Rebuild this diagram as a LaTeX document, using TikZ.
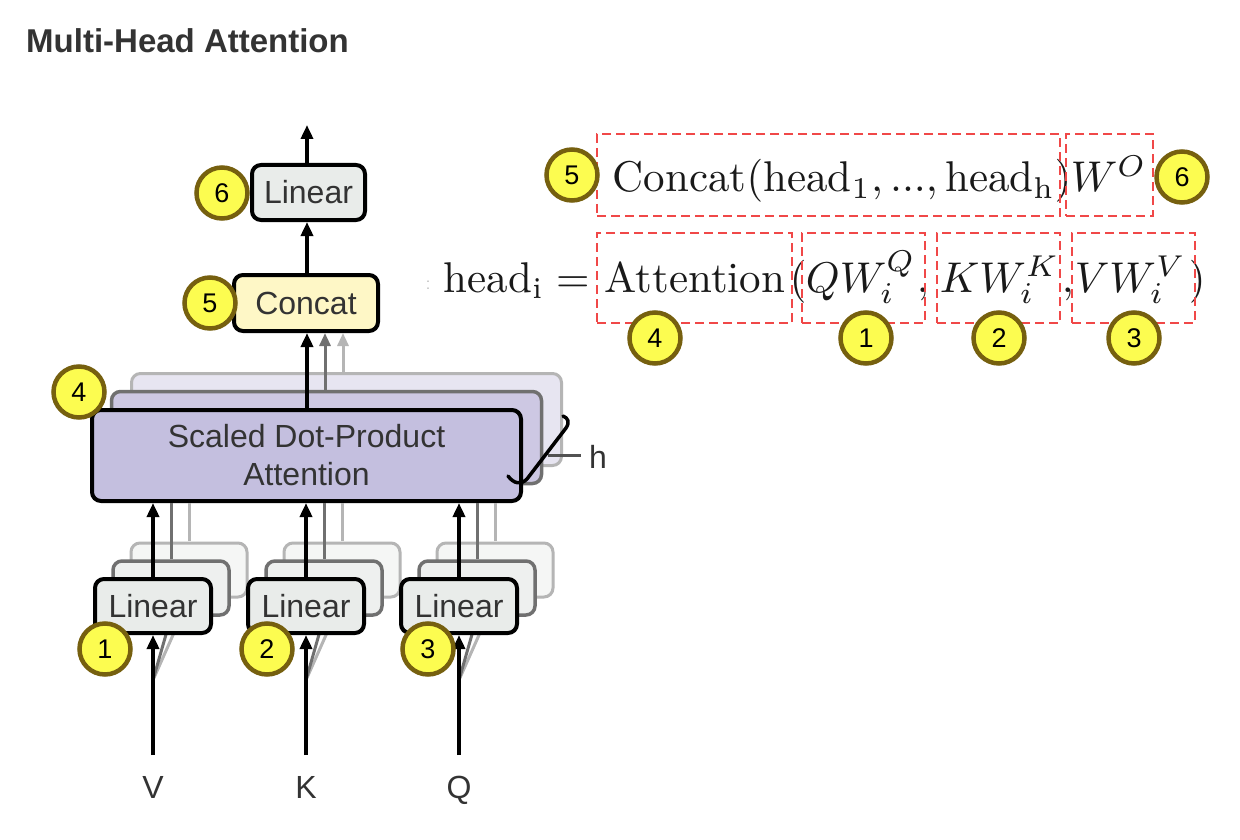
\documentclass[tikz,border=0pt]{standalone}
\usepackage{fontspec}
\newfontfamily\hv{Liberation Sans}
\usetikzlibrary{arrows.meta}
\definecolor{txt}{HTML}{333333}
\definecolor{titlec}{HTML}{333333}
\definecolor{numfill}{HTML}{FCFC50}
\definecolor{numedge}{HTML}{76600F}
\definecolor{lingray}{HTML}{E9ECEA}
\definecolor{lingray2}{HTML}{EEF0EF}
\definecolor{lingray3}{HTML}{F5F6F5}
\definecolor{concatfill}{HTML}{FEF7C6}
\definecolor{attfill}{HTML}{C4BFDF}
\definecolor{attfill2}{HTML}{CDC8E3}
\definecolor{attfill3}{HTML}{E7E5F1}
\definecolor{mid}{HTML}{707070}
\definecolor{light}{HTML}{B5B5B5}
\definecolor{redc}{HTML}{F04848}
\tikzset{
  box/.style={draw=black, line width=4pt, rounded corners=9pt, inner sep=0pt,
    text=txt, font=\hv\fontsize{32}{38}\selectfont, align=center},
  linbox/.style={box, fill=lingray, minimum width=116pt, minimum height=54pt},
  num/.style={circle, draw=numedge, fill=numfill, line width=4.5pt, minimum size=51pt,
    inner sep=0pt, text=black, font=\hv\fontsize{27}{30}\selectfont},
  ar/.style={line width=4pt, -{Triangle[length=14pt,width=12pt]}},
  ln/.style={line width=3pt},
  redbox/.style={draw=redc, dash pattern=on 9pt off 5pt, line width=2.8pt, inner sep=0pt},
  fm/.style={inner sep=0pt, anchor=base west, scale=4.3, text=black!90},
  lbl/.style={inner sep=0pt, anchor=base, text=txt, font=\hv\fontsize{32}{38}\selectfont}
}
\begin{document}
\begin{tikzpicture}[x=1pt,y=-1pt]
\useasboundingbox (0,0) rectangle (1240,840);
\fill[white] (0,0) rectangle (1240,840);

% title
\node[anchor=base west, inner sep=0pt, font=\hv\bfseries\fontsize{33}{38}\selectfont, text=titlec] (title) at (26,53) {Multi-Head Attention};

% ---------- attention stack ----------
\node[box, draw=light, line width=3pt, fill=attfill3, minimum width=430pt, minimum height=92pt] (att3) at (346.5,419.5) {};
\draw[ln, light, -{Triangle[length=13pt,width=11pt]}] (343,372) -- (343,333);
\node[box, draw=mid, line width=3.5pt, fill=attfill2, minimum width=430pt, minimum height=92pt] (att2) at (326.5,437.5) {};
\draw[ln, mid, -{Triangle[length=13pt,width=11pt]}] (325,390) -- (325,333);
\node[box, fill=attfill, minimum width=429pt, minimum height=91pt] (att) at (306.5,455.5) {Scaled Dot-Product\\Attention};

% h bracket
\draw[line width=3.5pt, line cap=round, line join=round]
  (508,476) .. controls (514,484) and (521,485) .. (527,479) -- (566,428) .. controls (570,422) and (568,418) .. (563,416);
\coordinate (hb) at (548,455);
\node[inner sep=0pt, anchor=base west, text=txt, font=\hv\fontsize{32}{38}\selectfont] (h) at (589,468) {h};
\draw[line width=3pt, txt!85] (hb) -- (581,455);

% ---------- concat and output linear ----------
\node[box, fill=concatfill, minimum width=144pt, minimum height=56pt] (concat) at (306,303) {Concat};
\node[box, fill=lingray, minimum width=113pt, minimum height=55pt] (L6) at (308.5,192.5) {Linear};
\coordinate (out) at (307,125);
\draw[ar] (L6.north -| out) -- (out);
\draw[ar] (concat.north -| out) -- (L6.south -| out);
\draw[ar] (att.north -| out) -- (concat.south -| out);

% ---------- bottom linear stacks ----------
\foreach \n/\x/\lab in {1/153/V, 2/306/K, 3/459/Q}{
  \node[box, draw=light, line width=3pt, fill=lingray3, minimum width=116pt, minimum height=54pt] (lin\n c) at (\x+36,570) {};
  \draw[ln, light] (\x,680) -- (\x+36,599);
  \draw[ln, light] (\x+36,541) -- (\x+36,503);
  \node[box, draw=mid, line width=3.5pt, fill=lingray2, minimum width=116pt, minimum height=54pt] (lin\n b) at (\x+18,588) {};
  \draw[ln, mid] (\x,680) -- (\x+18,617);
  \draw[ln, mid] (\x+18,559) -- (\x+18,503);
  \node[linbox] (lin\n) at (\x,606) {Linear};
  \node[lbl] (in\n) at (\x,798) {\lab};
  \coordinate (s\n) at (\x,755);
  \draw[ar] (s\n) -- (lin\n.south);
  \draw[ar] (lin\n.north) -- (lin\n.north |- att.south);
}

% ---------- numbered circles (left) ----------
\node[num] (n1) at (105,649) {1};
\node[num] (n2) at (267,649) {2};
\node[num] (n3) at (428,649) {3};
\node[num] (n4) at (79,392) {4};
\node[num] (n5) at (210,303) {5};
\node[num] (n6) at (222,193) {6};

% ---------- formulas ----------
\node[inner sep=0pt, text=black!30, font=\fontsize{20}{24}\selectfont] (frag) at (428,285) {:};
\node[fm] (fC) at (612,192) {$\mathrm{Concat}(\mathrm{head}_1, ..., \mathrm{head_h})$};
\node[fm] (fW) at (1070,192) {$W^O$};
\node[fm] (fH) at (443,292) {$\mathrm{head_i} =$};
\node[fm] (fA) at (604,292) {Attention};
\node[fm] (fP1) at (789,292) {$($};
\node[fm] (fQ) at (805,292) {$QW_i^Q$};
\node[fm] (fc1) at (916,292) {$,$};
\node[fm] (fK) at (939,292) {$KW_i^K$};
\node[fm] (fc2) at (1061,292) {$,$};
\node[fm] (fV) at (1074,292) {$VW_i^V$};
\node[fm] (fP2) at (1188,292) {$)$};

% red dashed boxes
\node[redbox, minimum width=463pt, minimum height=82pt] (bC) at (828.5,175) {};
\node[redbox, minimum width=87pt, minimum height=82pt] (bW) at (1109.5,175) {};
\node[redbox, minimum width=195pt, minimum height=90pt] (b4) at (694.5,278) {};
\node[redbox, minimum width=123pt, minimum height=90pt] (bQ) at (863.5,278) {};
\node[redbox, minimum width=123pt, minimum height=90pt] (bK) at (998.5,278) {};
\node[redbox, minimum width=123pt, minimum height=90pt] (bV) at (1133.5,278) {};

% numbered circles (right)
\node[num] (r5) at (572,175) {5};
\node[num] (r6) at (1182,177) {6};
\node[num] (r4) at (655,338) {4};
\node[num] (r1) at (866,338) {1};
\node[num] (r2) at (999,338) {2};
\node[num] (r3) at (1134,338) {3};
\end{tikzpicture}
\end{document}
